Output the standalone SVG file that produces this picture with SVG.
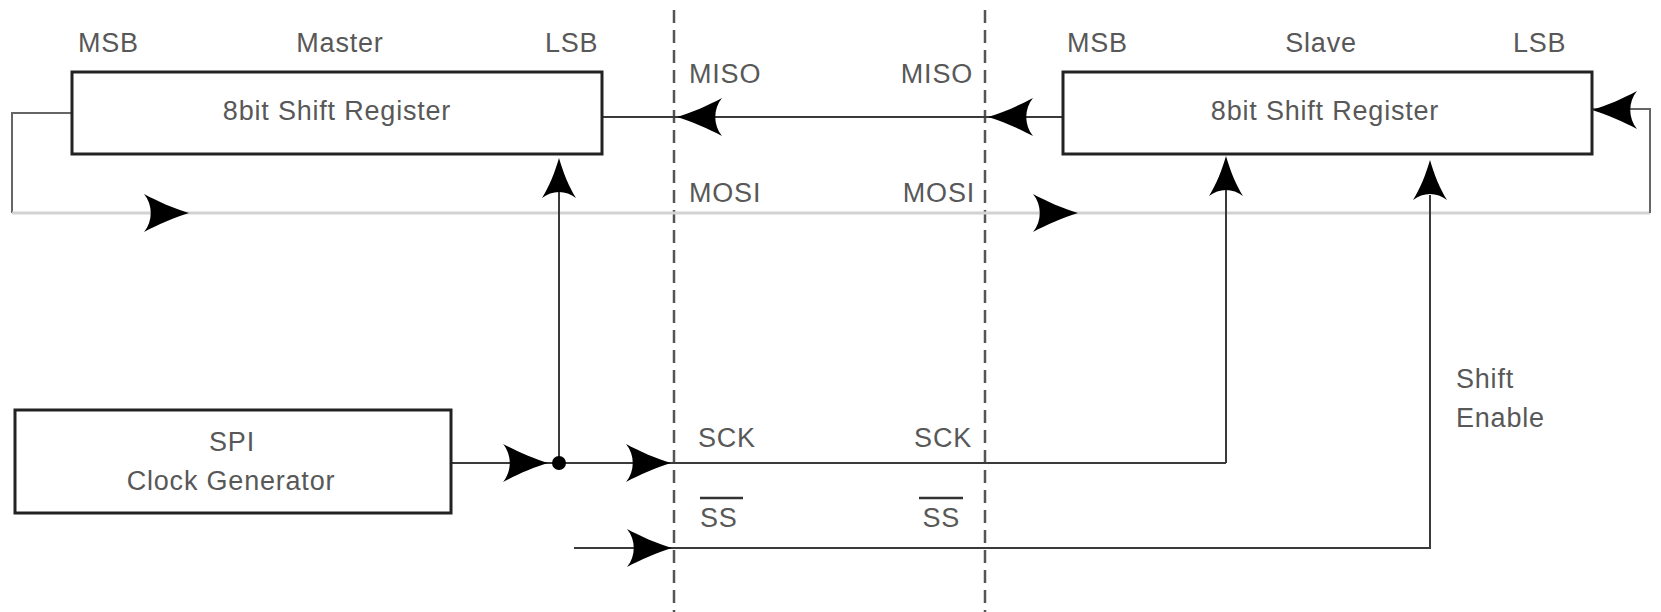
<svg xmlns="http://www.w3.org/2000/svg" xmlns:xlink="http://www.w3.org/1999/xlink" width="1661" height="612" viewBox="0 0 1661 612">
<style>
.box{fill:#fff;stroke:#222;stroke-width:3}
.ln{fill:none;stroke:#3a3a3a;stroke-width:2}
.lt{fill:none;stroke:#d2d2d2;stroke-width:3}
.fb{fill:none;stroke:#666;stroke-width:2}
.dash{fill:none;stroke:#555;stroke-width:2.5;stroke-dasharray:13 7}
text{font-family:"Liberation Sans",Arial,sans-serif;font-size:27px;fill:#585858;letter-spacing:0.8px}
.m{text-anchor:middle}
.e{text-anchor:end}
</style>
<defs>
<path id="arr" d="M0,0 C-14,-4 -32,-12 -45,-19 C-36,-8 -36,8 -45,19 C-32,12 -14,4 0,0 Z" fill="#000"/>
<path id="arrU" d="M0,0 C-14,-4 -29,-10 -40,-17 C-32,-7 -32,7 -40,17 C-29,10 -14,4 0,0 Z" fill="#000"/>
</defs>
<rect width="1661" height="612" fill="#fff"/>
<g id="dividers">
<line class="dash" x1="674" y1="10" x2="674" y2="612"/>
<line class="dash" x1="985" y1="10" x2="985" y2="612"/>
</g>
<g id="connectors">
<polyline class="fb" points="72,113 12,113 12,213"/>
<line class="lt" x1="12" y1="213" x2="1650" y2="213"/>
<polyline class="fb" points="1650,213 1650,109 1592,109"/>
<line class="ln" x1="602" y1="117" x2="1063" y2="117"/>
<line class="ln" x1="451" y1="463" x2="1226" y2="463"/>
<polyline class="ln" points="1226,463 1226,190"/>
<polyline class="ln" points="559,463 559,190"/>
<circle cx="559" cy="463" r="7" fill="#000"/>
<polyline class="ln" points="574,548 1430,548 1430,195"/>
<use xlink:href="#arr" transform="translate(677,117) rotate(180)"/>
<use xlink:href="#arr" transform="translate(988,117) rotate(180)"/>
<use xlink:href="#arr" transform="translate(1592,110) rotate(180)"/>
<use xlink:href="#arr" transform="translate(189,213)"/>
<use xlink:href="#arr" transform="translate(1078,213)"/>
<use xlink:href="#arr" transform="translate(548,463)"/>
<use xlink:href="#arr" transform="translate(671,463)"/>
<use xlink:href="#arr" transform="translate(672,548)"/>
<use xlink:href="#arrU" transform="translate(559,158) rotate(-90)"/>
<use xlink:href="#arrU" transform="translate(1226,156) rotate(-90)"/>
<use xlink:href="#arrU" transform="translate(1430,160) rotate(-90)"/>
</g>
<g id="master">
<rect class="box" x="72" y="72" width="530" height="82"/>
<text class="m" x="337" y="120">8bit Shift Register</text>
<text x="78" y="52">MSB</text>
<text class="m" x="340" y="52">Master</text>
<text x="545" y="52">LSB</text>
</g>
<g id="slave">
<rect class="box" x="1063" y="72" width="529" height="82"/>
<text class="m" x="1325" y="120">8bit Shift Register</text>
<text x="1067" y="52">MSB</text>
<text class="m" x="1321" y="52">Slave</text>
<text x="1513" y="52">LSB</text>
</g>
<g id="clock">
<rect class="box" x="15" y="410" width="436" height="103"/>
<text class="m" x="232" y="451">SPI</text>
<text class="m" x="231" y="490">Clock Generator</text>
</g>
<g id="labels">
<text x="689" y="83">MISO</text>
<text class="e" x="973" y="83">MISO</text>
<text x="689" y="202">MOSI</text>
<text class="e" x="975" y="202">MOSI</text>
<text x="698" y="447">SCK</text>
<text class="e" x="972" y="447">SCK</text>
<text x="700" y="527">SS</text>
<line x1="700" y1="498" x2="743" y2="498" stroke="#333" stroke-width="2.5"/>
<text class="e" x="960" y="527">SS</text>
<line x1="919" y1="498" x2="963" y2="498" stroke="#333" stroke-width="2.5"/>
<text x="1456" y="388">Shift</text>
<text x="1456" y="427">Enable</text>
</g>
</svg>
